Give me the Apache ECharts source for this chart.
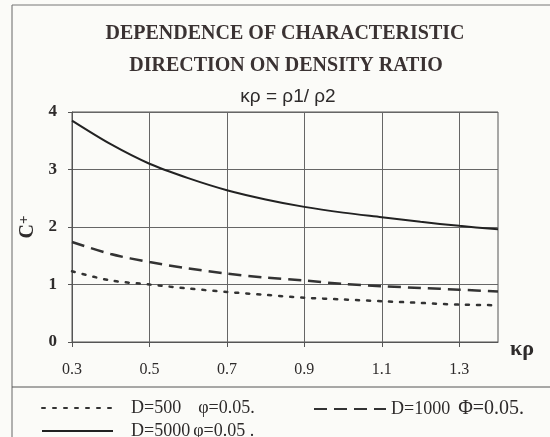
<!DOCTYPE html>
<html>
<head>
<meta charset="utf-8">
<script src="https://cdn.jsdelivr.net/npm/echarts@6/dist/echarts.min.js"></script>
<style>
  html, body { margin: 0; padding: 0; background: #fbfbf8; }
  #chart { width: 550px; height: 437px; }
</style>
</head>
<body>
<div id="chart"></div>
<script>
// kappa rho values (0.1 step) - labels shown every 0.2
var kRho = ['0.3', '0.4', '0.5', '0.6', '0.7', '0.8', '0.9', '1.0', '1.1', '1.2', '1.3', '1.4'];

var d500 = [1.23, 1.07, 1.00, 0.93, 0.87, 0.82, 0.77, 0.74, 0.71, 0.68, 0.65, 0.64];
var d1000 = [1.74, 1.53, 1.39, 1.28, 1.19, 1.12, 1.07, 1.01, 0.97, 0.94, 0.91, 0.88];
var d5000 = [3.85, 3.44, 3.10, 2.85, 2.64, 2.48, 2.35, 2.25, 2.17, 2.09, 2.02, 1.96];

var seriesNames = ['D=500', 'D=1000', 'D=5000'];
var phiText = ['φ=0.05.', 'Φ=0.05.', 'φ=0.05 .'];

var titleLines = ['DEPENDENCE OF CHARACTERISTIC', 'DIRECTION ON DENSITY RATIO', 'κρ = ρ1/ ρ2'];

var ink = '#2e2b2b';
var serif = '"Liberation Serif", "DejaVu Serif", serif';

const legendText = (phiIdx, padLeft, phiPad) => ({
    itemStyle: { opacity: 0 },
    formatter: name => '{d|' + name + '}{p|' + phiText[phiIdx] + '}',
    textStyle: {
        rich: {
            d: { fontFamily: serif, fontSize: 18, color: ink, padding: [0, 0, 0, padLeft] },
            p: { fontFamily: serif, fontSize: phiIdx === 1 ? 20 : 18, color: ink, padding: [0, 0, 0, phiPad] }
        }
    }
});

const getOption = () => {
    return {
        backgroundColor: '#fbfbf8',
        animation: false,
        title: [
            { text: titleLines[0], left: 280, top: 19, textAlign: 'center',
              textStyle: { fontFamily: serif, fontSize: 20, fontWeight: 'bold', color: '#3a3232' } },
            { text: titleLines[1], left: 281, top: 51, textAlign: 'center',
              textStyle: { fontFamily: serif, fontSize: 20, fontWeight: 'bold', color: '#3a3232' } },
            { text: titleLines[2], left: 283, top: 82, textAlign: 'center',
              textStyle: { fontFamily: '"Liberation Sans", Arial, sans-serif', fontSize: 19, fontWeight: 'normal', color: ink } }
        ],
        legend: [
            Object.assign({ data: [seriesNames[0]], left: 36, top: 394, itemWidth: 71, itemHeight: 14 }, legendText(0, 13, 17)),
            Object.assign({ data: [seriesNames[1]], left: 308, top: 394, itemWidth: 72, itemHeight: 14 }, legendText(1, 0, 8)),
            Object.assign({ data: [seriesNames[2]], left: 36, top: 417, itemWidth: 71, itemHeight: 14 }, legendText(2, 13, 3))
        ],
        grid: { left: 72, right: 52, top: 112, bottom: 95, show: true, borderColor: '#555', borderWidth: 1 },
        xAxis: {
            type: 'category',
            data: kRho,
            boundaryGap: false,
            name: 'κρ',
            nameLocation: 'end',
            nameGap: 12,
            nameTextStyle: { fontFamily: serif, fontSize: 22, fontWeight: 'bold', color: ink, verticalAlign: 'top', padding: [-4, 0, 0, 0] },
            axisLine: { lineStyle: { color: '#555', width: 1 } },
            axisTick: { interval: (i) => i % 2 === 0, length: 5, lineStyle: { color: '#555' } },
            axisLabel: { interval: (i) => i % 2 === 0 && i < 11, margin: 20, fontFamily: serif, fontSize: 16, color: ink },
            splitLine: { show: true, interval: (i) => i % 2 === 0, lineStyle: { color: '#666', width: 1 } }
        },
        yAxis: {
            type: 'value',
            min: 0,
            max: 4,
            interval: 1,
            name: 'C{s|+}',
            nameLocation: 'middle',
            nameGap: 30,
            nameTextStyle: { fontFamily: serif, fontSize: 20, fontWeight: 'bold', color: ink,
                rich: { s: { fontFamily: serif, fontSize: 15, fontWeight: 'bold', color: ink, verticalAlign: 'top', padding: [0, 0, 6, 0] } } },
            axisLine: { show: true, lineStyle: { color: '#555', width: 1 } },
            axisTick: { show: true, length: 4, lineStyle: { color: '#555' } },
            axisLabel: { margin: 15, fontFamily: serif, fontSize: 17, fontWeight: 'bold', color: ink },
            splitLine: { lineStyle: { color: '#666', width: 1 } }
        },
        series: [
            { name: seriesNames[0], type: 'line', data: d500, smooth: 0.3, symbol: 'none',
              lineStyle: { color: '#333', width: 2.5, type: [3, 8], cap: 'round' }, itemStyle: { color: '#333' } },
            { name: seriesNames[1], type: 'line', data: d1000, smooth: 0.3, symbol: 'none',
              lineStyle: { color: '#333', width: 2.5, type: [13, 7] }, itemStyle: { color: '#333' } },
            { name: seriesNames[2], type: 'line', data: d5000, smooth: 0.3, symbol: 'none',
              lineStyle: { color: '#222', width: 2 }, itemStyle: { color: '#222' } }
        ],
        graphic: [
            { type: 'line', shape: { x1: 12, y1: 5, x2: 12, y2: 437 }, style: { stroke: '#666', lineWidth: 1 } },
            { type: 'line', shape: { x1: 12, y1: 5, x2: 550, y2: 5 }, style: { stroke: '#777', lineWidth: 1 } },
            { type: 'line', shape: { x1: 12, y1: 387, x2: 550, y2: 387 }, style: { stroke: '#555', lineWidth: 1 } }
        ]
    };
};

const initChart = () => {
    const chart = echarts.init(document.getElementById('chart'));
    chart.setOption(getOption());
};

initChart();
</script>
</body>
</html>
